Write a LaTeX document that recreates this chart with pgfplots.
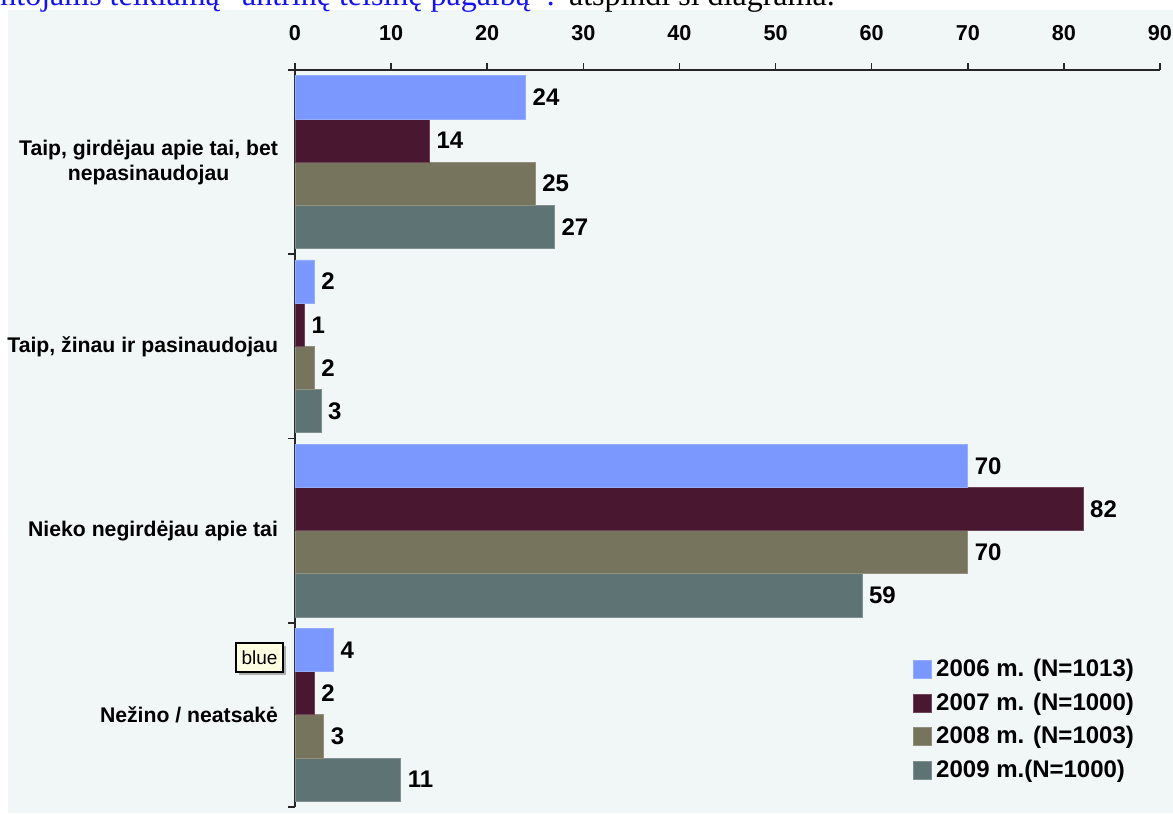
\documentclass[border=0pt]{standalone}
\usepackage{pgfplots}
\pgfplotsset{compat=1.18}
\usepackage{fontspec}
\setmainfont{Liberation Sans}
\newfontfamily\seriffont{Liberation Serif}
\usetikzlibrary{shadows}
\definecolor{cA}{RGB}{122,152,255}
\definecolor{cB}{RGB}{74,23,48}
\definecolor{cC}{RGB}{118,116,92}
\definecolor{cD}{RGB}{94,116,116}
\definecolor{bgc}{RGB}{241,246,246}
\definecolor{tipc}{RGB}{255,255,225}
\definecolor{txtblue}{RGB}{20,20,240}
\begin{document}
\begin{tikzpicture}
\useasboundingbox (0,0) rectangle (586.5pt,-407pt);
\fill[white] (0,0) rectangle (586.5pt,-407pt);
\fill[bgc] (4pt,-5pt) rectangle (586.5pt,-406.5pt);
\node[anchor=base west, inner sep=0pt, font=\seriffont\fontsize{16}{18}\selectfont] at (0pt,-2.5pt)
 {\textcolor{txtblue}{ntojams teikiamą “antrinę teisinę pagalbą”?} atspindi ši diagrama.};
\begin{axis}[
  at={(147.5pt,-403.5pt)}, anchor=south west,
  scale only axis, width=432.5pt, height=368.5pt,
  /pgf/number format/assume math mode=true,
  xbar=0pt, bar width=21.6pt,
  xmin=0, xmax=90,
  ymin=0.5, ymax=4.5, y dir=reverse,
  axis x line*=top, axis y line*=left,
  axis line style={line width=0.8pt, black!85, -},
  every tick/.style={line width=0.8pt, black!85},
  tick align=outside, major tick length=3.5pt,
  xtick={0,10,...,90},
  xticklabel style={font=\bfseries\fontsize{10.8}{12}\selectfont, yshift=7.5pt},
  ytick={0.5,1.5,2.5,3.5,4.5}, yticklabels={},
  extra y ticks={1,2,3,4},
  extra y tick labels={{Taip, girdėjau apie tai, bet\\nepasinaudojau},{Taip, žinau ir pasinaudojau},{Nieko negirdėjau apie tai},{Nežino / neatsakė}},
  extra y tick style={major tick length=0pt, yticklabel style={align=center, font=\bfseries\fontsize{10.6}{12.5}\selectfont, xshift=-5pt}},
  nodes near coords,
  point meta=x,
  nodes near coords style={font=\bfseries\fontsize{12}{13}\selectfont, /pgf/number format/fixed, /pgf/number format/precision=0, /pgf/number format/assume math mode=true},
  legend style={draw=none, fill=none, at={(axis description cs:0.7145,0.206)}, anchor=north west,
    font=\bfseries\fontsize{12}{13}\selectfont, row sep=2.5pt, inner sep=0pt},
  legend cell align=left,
  reverse legend,
  legend image code/.code={\fill[#1] (0pt,-4.5pt) rectangle (9pt,4.5pt);},
]
\addplot[fill=cD, draw=cD!80!white, line width=0.4pt] coordinates {(27,1) (2.7,2) (59,3) (11,4)};
\addplot[fill=cC, draw=cC!80!white, line width=0.4pt] coordinates {(25,1) (2,2) (70,3) (3,4)};
\addplot[fill=cB, draw=cB!80!white, line width=0.4pt] coordinates {(14,1) (1,2) (82,3) (2,4)};
\addplot[fill=cA, draw=cA!80!white, line width=0.4pt] coordinates {(24,1) (2,2) (70,3) (4,4)};
\legend{2009 m.(N=1000), 2008 m. (N=1003), 2007 m. (N=1000), 2006 m. (N=1013)}
\end{axis}
\node[draw=black, line width=0.6pt, fill=tipc, inner sep=2pt, minimum width=23.5pt, minimum height=14.5pt,
  drop shadow={shadow xshift=1.5pt, shadow yshift=-1.5pt, fill=gray, opacity=0.6},
  font=\fontsize{9.5}{11}\selectfont] at (129.75pt,-328.75pt) {blue};
\end{tikzpicture}
\end{document}
